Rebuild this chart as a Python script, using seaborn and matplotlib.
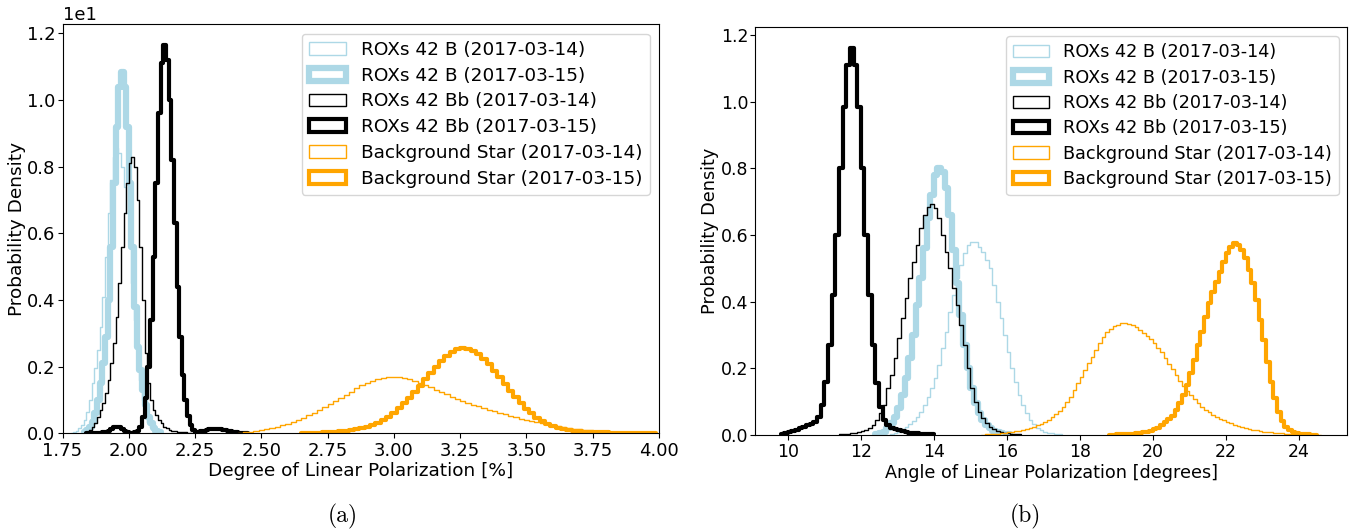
import numpy as np
import pandas as pd
import matplotlib
matplotlib.use("Agg")
import matplotlib.pyplot as plt
import matplotlib.patches as mpatches
import seaborn as sns

# legend labels and colours
labels = ["ROXs 42 B (2017-03-14)", "ROXs 42 B (2017-03-15)",
          "ROXs 42 Bb (2017-03-14)", "ROXs 42 Bb (2017-03-15)",
          "Background Star (2017-03-14)", "Background Star (2017-03-15)"]
colors = ["lightblue", "lightblue", "black", "black", "orange", "orange"]
widths = [1.0, 4.5, 1.0, 3.0, 1.0, 3.0]

# degree of linear polarization [%]: first bin edge, bin width, densities
b14_dlp_edge, b14_dlp_w = 1.78, 0.01
b14_dlp = [0.02, 0.04, 0.08, 0.15, 0.25, 0.40, 0.65, 1.0, 1.5, 1.95,
           2.5, 3.2, 4.1, 5.3, 6.6, 7.6, 8.3, 8.55, 8.4, 8.0,
           7.4, 6.6, 5.6, 4.5, 3.4, 2.4, 1.6, 1.0, 0.6, 0.35,
           0.2, 0.1, 0.05]

b15_dlp_edge, b15_dlp_w = 1.83, 0.01
b15_dlp = [0.05, 0.1, 0.2, 0.35, 0.6, 1.0, 1.5, 2.1, 2.9, 4.0,
           5.6, 7.5, 9.2, 10.4, 10.85, 10.4, 9.2, 7.5, 5.6, 3.8,
           2.6, 1.9, 1.3, 0.85, 0.5, 0.3, 0.15, 0.08, 0.04]

bb14_dlp_edge, bb14_dlp_w = 1.83, 0.01
bb14_dlp = [0.02, 0.05, 0.1, 0.2, 0.3, 0.5, 0.7, 0.9, 1.2, 1.6,
            2.1, 2.7, 3.5, 4.5, 5.6, 6.6, 7.5, 8.1, 8.3, 8.0,
            7.0, 5.6, 4.0, 2.4, 1.5, 1.0, 0.7, 0.55, 0.4, 0.3,
            0.2, 0.15, 0.1, 0.08, 0.06, 0.05, 0.04, 0.03, 0.03, 0.02,
            0.02, 0.01, 0.01]

bb15_dlp_edge, bb15_dlp_w = 1.84, 0.01
bb15_dlp = [0.01, 0.01, 0.01, 0.01, 0.01, 0.02, 0.03, 0.05, 0.08, 0.13,
            0.18, 0.2, 0.18, 0.12, 0.06, 0.03, 0.02, 0.02, 0.03, 0.08,
            0.2, 0.5, 1.06, 2.0, 3.4, 5.3, 7.5, 9.6, 11.1, 11.65,
            11.2, 10.0, 8.2, 6.3, 4.4, 2.9, 1.76, 0.99, 0.51, 0.24,
            0.1, 0.04, 0.04, 0.06, 0.08, 0.1, 0.12, 0.13, 0.13, 0.13,
            0.12, 0.11, 0.09, 0.07, 0.06, 0.04, 0.03, 0.02, 0.02, 0.01,
            0.01]

bg14_dlp_edge, bg14_dlp_w = 2.41, 0.02
bg14_dlp = [0.02, 0.03, 0.05, 0.07, 0.10, 0.13, 0.16, 0.20, 0.24, 0.29,
            0.34, 0.40, 0.47, 0.54, 0.62, 0.70, 0.79, 0.88, 0.97, 1.07,
            1.16, 1.25, 1.35, 1.44, 1.51, 1.57, 1.62, 1.66, 1.68, 1.69,
            1.68, 1.66, 1.62, 1.57, 1.51, 1.44, 1.38, 1.31, 1.24, 1.17,
            1.10, 1.04, 0.98, 0.92, 0.86, 0.81, 0.76, 0.71, 0.66, 0.62,
            0.57, 0.52, 0.48, 0.44, 0.40, 0.37, 0.34, 0.31, 0.27, 0.24,
            0.21, 0.18, 0.16, 0.14, 0.12, 0.10, 0.09, 0.08, 0.07, 0.06,
            0.05, 0.04, 0.04, 0.03, 0.03, 0.02, 0.02, 0.02]

bg15_dlp_edge, bg15_dlp_w = 2.65, 0.02
bg15_dlp = [0.01, 0.01, 0.02, 0.02, 0.03, 0.04, 0.05, 0.06, 0.08, 0.10,
            0.13, 0.16, 0.20, 0.25, 0.31, 0.40, 0.50, 0.62, 0.75, 0.90,
            1.06, 1.23, 1.42, 1.62, 1.82, 2.00, 2.17, 2.32, 2.44, 2.52,
            2.55, 2.54, 2.48, 2.38, 2.24, 2.07, 1.88, 1.68, 1.48, 1.28,
            1.08, 0.90, 0.74, 0.60, 0.47, 0.36, 0.28, 0.21, 0.16, 0.12,
            0.10, 0.08, 0.06, 0.05, 0.04, 0.04, 0.03, 0.03, 0.02, 0.02,
            0.02, 0.02, 0.01, 0.01, 0.01, 0.01, 0.01]

# angle of linear polarization [degrees]
b14_alp_edge, b14_alp_w = 12.8, 0.1
b14_alp = [0.003, 0.005, 0.010, 0.017, 0.025, 0.033, 0.043, 0.055, 0.068, 0.09,
           0.115, 0.14, 0.17, 0.21, 0.26, 0.31, 0.37, 0.42, 0.47, 0.51,
           0.545, 0.57, 0.58, 0.58, 0.565, 0.55, 0.525, 0.50, 0.45, 0.40,
           0.35, 0.30, 0.25, 0.20, 0.16, 0.12, 0.09, 0.065, 0.045, 0.032,
           0.022, 0.015, 0.01, 0.007, 0.005, 0.003, 0.002]

b15_alp_edge, b15_alp_w = 12.4, 0.1
b15_alp = [0.002, 0.005, 0.01, 0.02, 0.035, 0.055, 0.08, 0.12, 0.17, 0.23,
           0.30, 0.39, 0.47, 0.56, 0.65, 0.72, 0.78, 0.80, 0.79, 0.74,
           0.66, 0.555, 0.455, 0.36, 0.27, 0.20, 0.14, 0.095, 0.065, 0.045,
           0.03, 0.02, 0.013, 0.008, 0.005, 0.003, 0.002]

bb14_alp_edge, bb14_alp_w = 11.4, 0.1
bb14_alp = [0.002, 0.003, 0.004, 0.005, 0.007, 0.009, 0.012, 0.016, 0.021, 0.03,
            0.045, 0.065, 0.09, 0.14, 0.18, 0.23, 0.29, 0.35, 0.41, 0.47,
            0.52, 0.57, 0.62, 0.66, 0.685, 0.693, 0.68, 0.65, 0.60, 0.55,
            0.50, 0.44, 0.39, 0.33, 0.27, 0.20, 0.14, 0.10, 0.07, 0.05,
            0.035, 0.025, 0.018, 0.013, 0.01, 0.007, 0.005, 0.004, 0.003, 0.002]

bb15_alp_edge, bb15_alp_w = 9.8, 0.1
bb15_alp = [0.003, 0.006, 0.01, 0.012, 0.015, 0.02, 0.025, 0.03, 0.033, 0.04,
            0.055, 0.09, 0.16, 0.27, 0.42, 0.60, 0.80, 0.985, 1.11, 1.16,
            1.11, 0.985, 0.80, 0.60, 0.42, 0.27, 0.157, 0.085, 0.045, 0.03,
            0.022, 0.017, 0.014, 0.011, 0.009, 0.007, 0.006, 0.005, 0.004, 0.003,
            0.002, 0.002]

bg14_alp_edge, bg14_alp_w = 15.3, 0.1
bg14_alp = [0.001, 0.002, 0.002, 0.003, 0.004, 0.005, 0.006, 0.008, 0.009, 0.011,
            0.013, 0.015, 0.018, 0.021, 0.025, 0.029, 0.033, 0.038, 0.045, 0.053,
            0.062, 0.072, 0.085, 0.10, 0.115, 0.135, 0.155, 0.175, 0.195, 0.215,
            0.235, 0.255, 0.275, 0.293, 0.308, 0.318, 0.326, 0.331, 0.335, 0.336,
            0.334, 0.330, 0.323, 0.315, 0.306, 0.297, 0.287, 0.276, 0.262, 0.248,
            0.232, 0.214, 0.197, 0.180, 0.163, 0.147, 0.133, 0.120, 0.107, 0.095,
            0.085, 0.076, 0.068, 0.061, 0.055, 0.049, 0.044, 0.039, 0.035, 0.031,
            0.027, 0.024, 0.021, 0.018, 0.016, 0.014, 0.012, 0.010, 0.009, 0.008,
            0.007, 0.006, 0.005, 0.004, 0.004, 0.003, 0.003, 0.002, 0.002, 0.002,
            0.001, 0.001, 0.001]

bg15_alp_edge, bg15_alp_w = 18.8, 0.1
bg15_alp = [0.001, 0.001, 0.002, 0.002, 0.003, 0.003, 0.004, 0.005, 0.006, 0.008,
            0.010, 0.013, 0.017, 0.022, 0.029, 0.038, 0.048, 0.058, 0.075, 0.095,
            0.12, 0.15, 0.185, 0.225, 0.27, 0.31, 0.355, 0.395, 0.43, 0.46,
            0.49, 0.52, 0.545, 0.565, 0.575, 0.57, 0.555, 0.53, 0.495, 0.455,
            0.405, 0.345, 0.285, 0.22, 0.16, 0.11, 0.07, 0.042, 0.025, 0.015,
            0.009, 0.006, 0.004, 0.003, 0.002, 0.001, 0.001]

dlp_curves = [(b14_dlp_edge, b14_dlp_w, b14_dlp), (b15_dlp_edge, b15_dlp_w, b15_dlp),
              (bb14_dlp_edge, bb14_dlp_w, bb14_dlp), (bb15_dlp_edge, bb15_dlp_w, bb15_dlp),
              (bg14_dlp_edge, bg14_dlp_w, bg14_dlp), (bg15_dlp_edge, bg15_dlp_w, bg15_dlp)]
alp_curves = [(b14_alp_edge, b14_alp_w, b14_alp), (b15_alp_edge, b15_alp_w, b15_alp),
              (bb14_alp_edge, bb14_alp_w, bb14_alp), (bb15_alp_edge, bb15_alp_w, bb15_alp),
              (bg14_alp_edge, bg14_alp_w, bg14_alp), (bg15_alp_edge, bg15_alp_w, bg15_alp)]


def draw_hist(ax, edge, w, dens, color, lw):
    n = len(dens)
    df = pd.DataFrame({"x": edge + w * (np.arange(n) + 0.5), "dens": dens})
    sns.histplot(data=df, x="x", weights="dens", binwidth=w,
                 binrange=(edge, edge + w * n), element="step",
                 fill=False, color=color, linewidth=lw, ax=ax)


def add_legend(ax, size):
    handles = [mpatches.Patch(facecolor="none", edgecolor=c, linewidth=lw, label=l)
               for l, c, lw in zip(labels, colors, widths)]
    ax.legend(handles=handles, loc="upper right", fontsize=size, labelspacing=0.42)


sns.set_style("ticks", {"axes.edgecolor": "black", "text.color": "black",
                        "axes.labelcolor": "black", "xtick.color": "black",
                        "ytick.color": "black"})
plt.rcParams["font.family"] = ["DejaVu Sans"]
plt.rcParams["axes.linewidth"] = 0.8

fig = plt.figure(figsize=(13.51, 5.31), dpi=100)
ax1 = fig.add_axes([0.0463, 0.184, 0.4415, 0.7702])
ax2 = fig.add_axes([0.5591, 0.1808, 0.4382, 0.7678])

for (edge, w, dens), c, lw in zip(dlp_curves, colors, widths):
    draw_hist(ax1, edge, w, dens, c, lw)
for (edge, w, dens), c, lw in zip(alp_curves, colors, widths):
    draw_hist(ax2, edge, w, dens, c, lw)

# left panel
ax1.set_xlim(1.75, 4.00)
ax1.set_ylim(0, 12.27)
ax1.set_xticks([1.75, 2.00, 2.25, 2.50, 2.75, 3.00, 3.25, 3.50, 3.75, 4.00])
ax1.ticklabel_format(axis="y", style="sci", scilimits=(0, 0))
ax1.tick_params(labelsize=13)
ax1.tick_params(axis="y", pad=1.5)
ax1.tick_params(axis="x", pad=2.5)
ax1.yaxis.get_offset_text().set_fontsize(13)
ax1.set_xlabel("Degree of Linear Polarization [%]", fontsize=13.3, labelpad=2)
ax1.set_ylabel("Probability Density", fontsize=13.3, labelpad=1)
add_legend(ax1, 13.3)

# right panel
ax2.set_xlim(9.11, 25.33)
ax2.set_ylim(0, 1.223)
ax2.set_xticks([10, 12, 14, 16, 18, 20, 22, 24])
ax2.tick_params(labelsize=12.5)
ax2.tick_params(axis="y", pad=1.5)
ax2.tick_params(axis="x", pad=2.5)
ax2.set_xlabel("Angle of Linear Polarization [degrees]", fontsize=12.7, labelpad=2)
ax2.set_ylabel("Probability Density", fontsize=12.7, labelpad=1)
add_legend(ax2, 12.7)

fig.text(0.254, 0.017, "(a)", family="cmr10", fontsize=17, ha="center", va="baseline")
fig.text(0.759, 0.017, "(b)", family="cmr10", fontsize=17, ha="center", va="baseline")

fig.savefig("out.png", dpi=100)
